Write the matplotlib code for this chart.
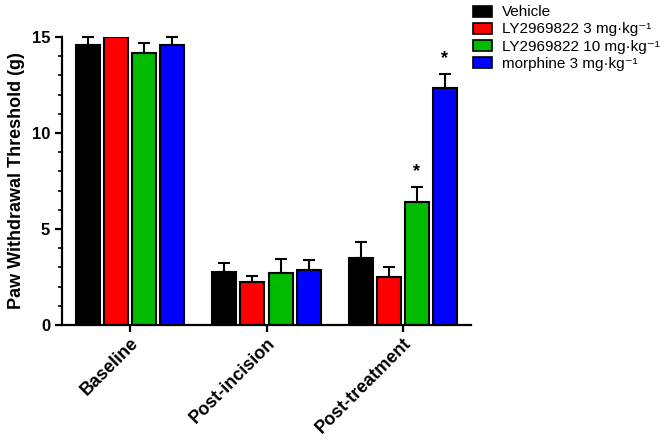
import matplotlib
matplotlib.use("Agg")
import matplotlib.pyplot as plt
from matplotlib.patches import Patch
import numpy as np

plt.rcParams['font.family'] = ['Liberation Sans', 'DejaVu Sans']

categories = ["Baseline", "Post-incision", "Post-treatment"]
series = ["Vehicle", "LY2969822 3 mg·kg⁻¹", "LY2969822 10 mg·kg⁻¹", "morphine 3 mg·kg⁻¹"]
colors = ["#000000", "#ff0000", "#00bb00", "#0000ff"]
vehicle = [14.6, 2.78, 3.5]
ly3 = [15.0, 2.22, 2.52]
ly10 = [14.15, 2.72, 6.4]
morphine = [14.58, 2.86, 12.36]
vehicle_err = [0.4, 0.46, 0.8]
ly3_err = [0.0, 0.32, 0.52]
ly10_err = [0.55, 0.73, 0.79]
morphine_err = [0.42, 0.51, 0.73]
significant = [[False, False, False], [False, False, False], [False, False, True], [False, False, True]]

values = [vehicle, ly3, ly10, morphine]
errs = [vehicle_err, ly3_err, ly10_err, morphine_err]

fig = plt.figure(figsize=(6.69, 4.42), dpi=100)
ax = fig.add_axes([62/669, 1-325/442, (471-62)/669, (325-37)/442])

x = np.arange(len(categories))
width = 0.176
step = 0.206
for i, (vals, er, c) in enumerate(zip(values, errs, colors)):
    pos = x + (i - 1.5) * step
    ax.bar(pos, vals, width, color=c, edgecolor='black', linewidth=1.5, zorder=2)
    er = np.asarray(er, dtype=float)
    m = er > 0
    ax.errorbar(pos[m], np.asarray(vals)[m], yerr=[np.zeros(m.sum()), er[m]], fmt='none',
                ecolor='black', elinewidth=1.5, capsize=4.5, capthick=1.5,
                clip_on=False, zorder=3)
    for j in range(len(vals)):
        if significant[i][j]:
            ax.text(pos[j], vals[j] + er[j] + 0.35, "*", ha='center', va='bottom',
                    fontsize=13, fontweight='bold')

ax.set_xlim(-0.5, 2.5)
ax.set_ylim(0, 15)
ax.set_yticks([0, 5, 10, 15])
ax.set_yticks(np.arange(0, 16, 1), minor=True)
ax.set_xticks(x)
ax.set_xticklabels(categories, rotation=45, ha='right', rotation_mode='anchor',
                   fontsize=13, fontweight='bold')
for lbl in ax.get_yticklabels():
    lbl.set_fontweight('bold')
    lbl.set_fontsize(12)
ax.set_ylabel("Paw Withdrawal Threshold (g)", fontsize=13, fontweight='bold', labelpad=5)
ax.spines['top'].set_visible(False)
ax.spines['right'].set_visible(False)
ax.spines['left'].set_linewidth(1.6)
ax.spines['bottom'].set_linewidth(1.6)
ax.tick_params(axis='both', which='major', width=1.6, length=5)
ax.tick_params(axis='x', which='major', pad=2)
ax.tick_params(axis='y', which='minor', width=1.2, length=3)

handles = [Patch(facecolor=c, edgecolor='black', linewidth=1.2) for c in colors]
fig.legend(handles, series, loc='upper left', bbox_to_anchor=(465/669, 1.005),
           frameon=False, fontsize=11, handlelength=1.3, handleheight=0.75,
           handletextpad=0.6, labelspacing=0.2, borderaxespad=0.1)

fig.savefig("out.png", dpi=100)
